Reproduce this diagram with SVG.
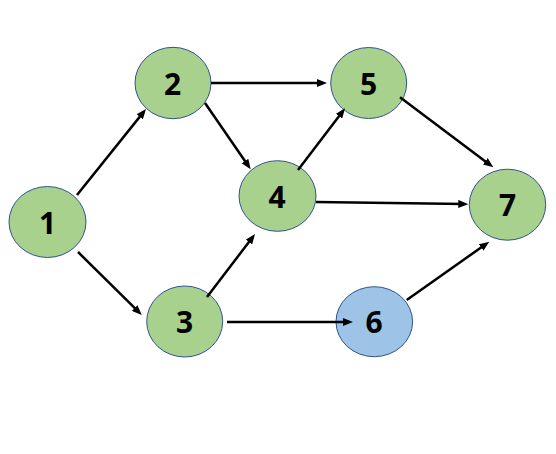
<svg xmlns="http://www.w3.org/2000/svg" width="556" height="454" viewBox="0 0 556 454">
<defs>
<marker id="arr" viewBox="0 0 10 8" markerWidth="10" markerHeight="8" refX="6" refY="4" orient="auto" markerUnits="userSpaceOnUse">
<path d="M0,0 L10,4 L0,8 z" fill="#000"/>
</marker>
</defs>
<style>
.n ellipse{fill:#A9D18E;stroke:#2F528F;stroke-width:1}
.n.b ellipse{fill:#9DC3E6}
.n text{font-family:"Noto Sans","Noto Sans CJK KR",sans-serif;font-weight:bold;font-size:30px;fill:#000;text-anchor:middle;dominant-baseline:central}
.e line{stroke:#000;stroke-width:2.5;marker-end:url(#arr)}
</style>
<rect width="556" height="454" fill="#fff"/>
<g id="n1" class="n"><ellipse cx="47.5" cy="222" rx="38.5" ry="35.5"/><text x="47.5" y="222">1</text></g>
<g id="n2" class="n"><ellipse cx="173" cy="83" rx="38" ry="35.7"/><text x="172.5" y="83">2</text></g>
<g id="n3" class="n"><ellipse cx="184.7" cy="321.5" rx="38" ry="35.5"/><text x="184.5" y="321.5">3</text></g>
<g id="n4" class="n"><ellipse cx="277.5" cy="196" rx="38.5" ry="35.3"/><text x="277" y="196">4</text></g>
<g id="n5" class="n"><ellipse cx="368.7" cy="83" rx="38" ry="35.5"/><text x="368.5" y="83">5</text></g>
<g id="n6" class="n b"><ellipse cx="374.3" cy="321.7" rx="38.3" ry="35"/><text x="374" y="321.7">6</text></g>
<g id="n7" class="n"><ellipse cx="507.5" cy="204.7" rx="38.2" ry="35.5"/><text x="507.5" y="204.7">7</text></g>
<g id="edges" class="e">
<line x1="77" y1="195" x2="143.5" y2="112.1"/>
<line x1="78" y1="252" x2="138.9" y2="312.2"/>
<line x1="205" y1="103" x2="248.4" y2="166"/>
<line x1="211" y1="83" x2="323" y2="83"/>
<line x1="207" y1="297" x2="252.6" y2="237.2"/>
<line x1="227" y1="322" x2="349" y2="322"/>
<line x1="298" y1="170" x2="342.6" y2="111.5"/>
<line x1="316" y1="202" x2="464.3" y2="204"/>
<line x1="400" y1="97.3" x2="490.1" y2="164.9"/>
<line x1="406.7" y1="300" x2="486" y2="244"/>
</g>
</svg>
